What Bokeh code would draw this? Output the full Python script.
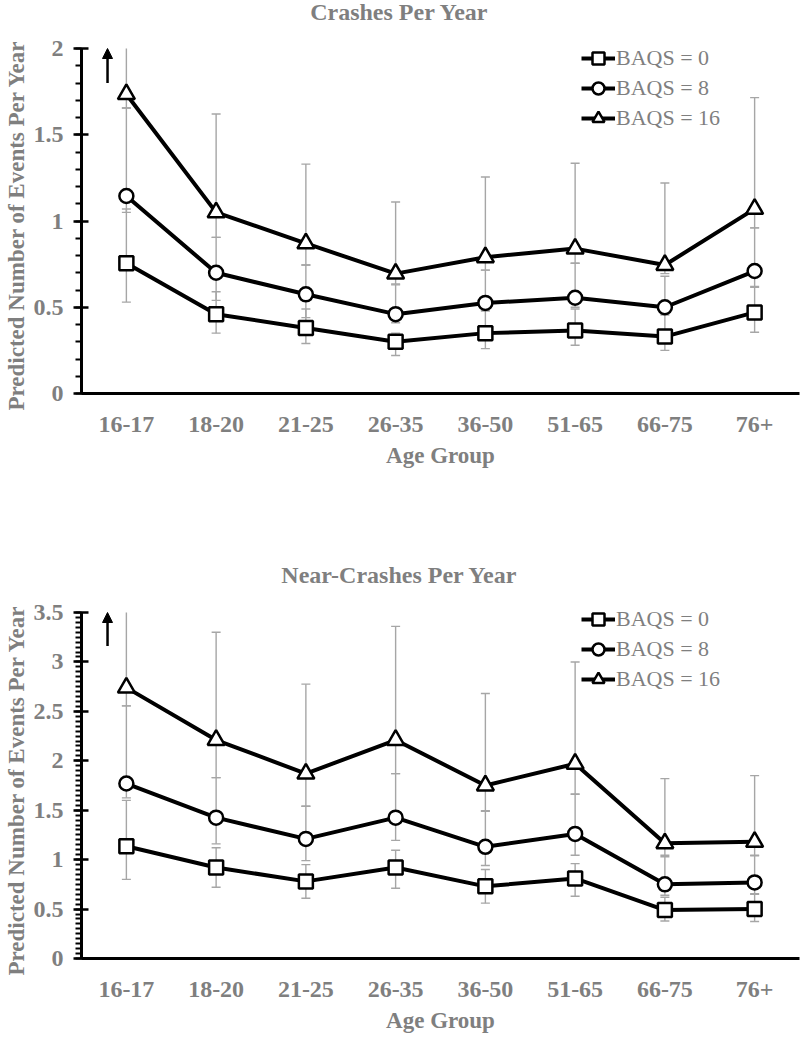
from bokeh.plotting import figure
from bokeh.models import (ColumnDataSource, FactorRange, Range1d, SingleIntervalTicker,
                          NumeralTickFormatter, Legend, LegendItem, Arrow, NormalHead,
                          Label, Title)
from bokeh.layouts import column
from bokeh.embed import file_html
from bokeh.resources import INLINE

age_groups = ["16-17", "18-20", "21-25", "26-35", "36-50", "51-65", "66-75", "76+"]
series_labels = ["BAQS = 0", "BAQS = 8", "BAQS = 16"]
series_markers = ["square", "circle", "triangle"]
series_sizes = [14, 14, 17]

# Crashes per year
crash_baqs0 = [0.755, 0.46, 0.38, 0.30, 0.35, 0.365, 0.33, 0.47]
crash_baqs8 = [1.145, 0.70, 0.575, 0.46, 0.525, 0.555, 0.50, 0.71]
crash_baqs16 = [1.735, 1.05, 0.87, 0.695, 0.79, 0.84, 0.745, 1.07]
crash_baqs0_lo = [0.53, 0.35, 0.29, 0.22, 0.26, 0.28, 0.25, 0.355]
crash_baqs0_hi = [1.07, 0.59, 0.49, 0.35, 0.48, 0.49, 0.455, 0.615]
crash_baqs8_lo = [1.05, 0.54, 0.44, 0.41, 0.48, 0.50, 0.46, 0.62]
crash_baqs8_hi = [1.655, 0.905, 0.745, 0.63, 0.715, 0.755, 0.68, 0.96]
crash_baqs16_lo = [1.655, 0.905, 0.745, 0.635, 0.715, 0.755, 0.695, 0.96]
crash_baqs16_hi = [2.6, 1.62, 1.33, 1.11, 1.255, 1.335, 1.22, 1.715]

# Near-crashes per year
near_baqs0 = [1.135, 0.92, 0.78, 0.92, 0.73, 0.81, 0.49, 0.50]
near_baqs8 = [1.77, 1.425, 1.21, 1.425, 1.13, 1.26, 0.75, 0.77]
near_baqs16 = [2.74, 2.21, 1.87, 2.21, 1.75, 1.97, 1.165, 1.18]
near_baqs0_lo = [0.80, 0.72, 0.61, 0.71, 0.56, 0.63, 0.38, 0.375]
near_baqs0_hi = [1.60, 1.12, 0.95, 1.095, 0.90, 0.96, 0.62, 0.65]
near_baqs8_lo = [1.625, 1.16, 0.99, 1.195, 0.94, 1.045, 0.64, 0.655]
near_baqs8_hi = [2.555, 1.83, 1.54, 1.87, 1.49, 1.66, 1.03, 1.04]
near_baqs16_lo = [2.555, 1.83, 1.54, 1.87, 1.495, 1.665, 1.045, 1.045]
near_baqs16_hi = [4.2, 3.30, 2.775, 3.36, 2.68, 3.0, 1.82, 1.85]

FONT = "Liberation Serif"
GRAY = "#7f7f7f"
ERR = "#a6a6a6"


def make_chart(title_text, means, lows, highs, ymax, minor_ticks, legend_y,
               arrow_len, axis_px, frame_px, bottom, title_y):
    height = frame_px + bottom
    # the frame reaches the top of the figure; the axis itself stops at ymax
    y_top = ymax * frame_px / axis_px
    p = figure(width=800, height=height,
               x_range=FactorRange(factors=age_groups, range_padding=0),
               y_range=Range1d(0, y_top),
               output_backend="svg", toolbar_location=None,
               min_border_left=79, min_border_right=1,
               min_border_top=0, min_border_bottom=bottom)
    p.outline_line_color = None
    p.xgrid.visible = False
    p.ygrid.visible = False
    p.background_fill_color = "white"

    p.add_layout(Label(x=318, y=title_y, x_units="screen", y_units="screen",
                       text=title_text, text_align="center", text_baseline="alphabetic",
                       text_font=FONT, text_font_size="24px", text_font_style="bold",
                       text_color=GRAY))

    # y axis
    p.yaxis.bounds = (0, ymax)
    p.yaxis.ticker = SingleIntervalTicker(interval=0.5, num_minor_ticks=minor_ticks)
    p.yaxis.formatter = NumeralTickFormatter(format="0.[0]")
    p.yaxis.axis_line_width = 3
    p.yaxis.axis_line_color = "black"
    p.yaxis.major_tick_line_width = 2.5
    p.yaxis.major_tick_in = 7
    p.yaxis.major_tick_out = 8
    p.yaxis.minor_tick_line_width = 2
    p.yaxis.minor_tick_in = 0
    p.yaxis.minor_tick_out = 6
    p.yaxis.major_label_standoff = 10
    p.add_layout(Title(text="Predicted Number  of Events Per Year", align="left",
                       offset=-17, standoff=3, text_font=FONT, text_font_size="23px",
                       text_font_style="bold", text_color=GRAY), "left")

    # x axis
    p.xaxis.axis_label = "Age Group"
    p.xaxis.axis_line_width = 3
    p.xaxis.axis_line_color = "black"
    p.xaxis.major_tick_line_color = None
    p.xaxis.minor_tick_line_color = None
    p.xaxis.major_label_standoff = 17
    p.xaxis.axis_label_standoff = 8

    for ax in (p.xaxis, p.yaxis):
        ax.major_label_text_font = FONT
        ax.major_label_text_font_size = "24px"
        ax.major_label_text_font_style = "bold"
        ax.major_label_text_color = GRAY
        ax.axis_label_text_font = FONT
        ax.axis_label_text_font_size = "23px"
        ax.axis_label_text_font_style = "bold"
        ax.axis_label_text_color = GRAY

    # error bars (cut at the top of the axis)
    for lo, hi in zip(lows, highs):
        src = ColumnDataSource(dict(x=age_groups, lo=lo, hi=[min(h, ymax) for h in hi]))
        p.segment(x0="x", y0="lo", x1="x", y1="hi", source=src,
                  line_color=ERR, line_width=1.4)
        p.scatter(x="x", y="lo", source=src, marker="dash", size=9,
                  line_color=ERR, line_width=1.4)
        caps = ColumnDataSource(dict(x=[a for a, h in zip(age_groups, hi) if h <= ymax],
                                     y=[h for h in hi if h <= ymax]))
        p.scatter(x="x", y="y", source=caps, marker="dash", size=9,
                  line_color=ERR, line_width=1.4)

    items = []
    for vals, label, mk, sz in zip(means, series_labels, series_markers, series_sizes):
        src = ColumnDataSource(dict(x=age_groups, y=vals))
        lr = p.line(x="x", y="y", source=src, line_color="black", line_width=4)
        sr = p.scatter(x="x", y="y", source=src, marker=mk, size=sz,
                       fill_color="white", line_color="black", line_width=2.5)
        items.append(LegendItem(label=label, renderers=[lr, sr]))

    legend = Legend(items=items, location=(500, legend_y),
                    glyph_width=34, glyph_height=30, spacing=0, padding=0, margin=0,
                    label_standoff=1, label_height=30,
                    label_text_font=FONT, label_text_font_size="22px",
                    label_text_color=GRAY, border_line_color=None,
                    background_fill_alpha=0)
    p.add_layout(legend)

    # arrow: upper interval of the first group runs off the scale
    ax_x = 0.5 - 0.21
    p.add_layout(Arrow(end=NormalHead(size=10, fill_color="black", line_color="black",
                                      line_width=1),
                       x_start=ax_x, y_start=ymax - arrow_len, x_end=ax_x, y_end=ymax,
                       line_width=2.5, line_color="black"))
    return p


p1 = make_chart("Crashes Per Year",
                [crash_baqs0, crash_baqs8, crash_baqs16],
                [crash_baqs0_lo, crash_baqs8_lo, crash_baqs16_lo],
                [crash_baqs0_hi, crash_baqs8_hi, crash_baqs16_hi],
                2.0, 5, 260, 0.2, 345, 393, 127, 382)
p2 = make_chart("Near-Crashes Per Year",
                [near_baqs0, near_baqs8, near_baqs16],
                [near_baqs0_lo, near_baqs8_lo, near_baqs16_lo],
                [near_baqs0_hi, near_baqs8_hi, near_baqs16_hi],
                3.5, 10, 264, 0.34, 346, 438, 80, 384)

layout = column(p1, p2, spacing=0)
open("out.html", "w").write(file_html(layout, INLINE))
